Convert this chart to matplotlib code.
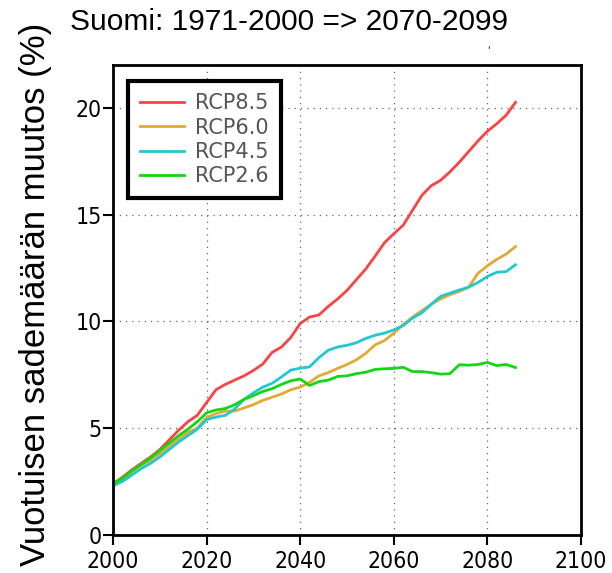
import numpy as np
import matplotlib as mpl
mpl.use("Agg")
import matplotlib.pyplot as plt

# Vuotuisen sademäärän muutos (%) Suomessa, 1971-2000 => 2070-2099
years = np.arange(2000, 2087, 2)

rcp85 = [2.4, 2.7, 3.05, 3.35, 3.65, 4.0, 4.45, 4.9, 5.3, 5.6,
         6.2, 6.8, 7.05, 7.25, 7.45, 7.7, 8.0, 8.55, 8.8, 9.25,
         9.9, 10.2, 10.3, 10.7, 11.05, 11.45, 11.95, 12.45, 13.05, 13.68,
         14.1, 14.5, 15.2, 15.9, 16.35, 16.6, 17.0, 17.45, 17.95, 18.45,
         18.9, 19.25, 19.65, 20.25]
rcp60 = [2.35, 2.6, 2.95, 3.25, 3.5, 3.8, 4.15, 4.5, 4.8, 5.0,
         5.5, 5.68, 5.8, 5.8, 5.95, 6.1, 6.3, 6.45, 6.6, 6.8,
         6.92, 7.15, 7.45, 7.6, 7.8, 7.98, 8.2, 8.5, 8.9, 9.1,
         9.45, 9.85, 10.2, 10.5, 10.8, 11.05, 11.25, 11.4, 11.6, 12.25,
         12.6, 12.9, 13.15, 13.5]
rcp45 = [2.3, 2.5, 2.8, 3.1, 3.35, 3.65, 4.0, 4.35, 4.65, 4.95,
         5.4, 5.52, 5.6, 5.9, 6.35, 6.65, 6.92, 7.1, 7.4, 7.72,
         7.81, 7.87, 8.3, 8.65, 8.8, 8.88, 9.0, 9.2, 9.35, 9.45,
         9.6, 9.8, 10.15, 10.4, 10.8, 11.17, 11.32, 11.47, 11.6, 11.82,
         12.1, 12.3, 12.33, 12.65]
rcp26 = [2.4, 2.65, 3.0, 3.3, 3.6, 3.95, 4.3, 4.65, 4.95, 5.3,
         5.72, 5.85, 5.92, 6.1, 6.35, 6.52, 6.72, 6.85, 7.05, 7.22,
         7.3, 7.0, 7.18, 7.25, 7.42, 7.45, 7.55, 7.62, 7.75, 7.78,
         7.8, 7.85, 7.65, 7.65, 7.6, 7.53, 7.55, 7.97, 7.95, 7.98,
         8.08, 7.93, 7.98, 7.84]

series = [("RCP8.5", rcp85, "#f84444"),
          ("RCP6.0", rcp60, "#e2aa33"),
          ("RCP4.5", rcp45, "#22c8d0"),
          ("RCP2.6", rcp26, "#14d614")]

xticks = [2000, 2020, 2040, 2060, 2080, 2100]
yticks = [0, 5, 10, 15, 20]

fig = plt.figure(figsize=(6.12, 5.73), dpi=100)
ax = fig.add_axes([113 / 612, 1 - 535 / 573, 468 / 612, 470 / 573])

for label, vals, col in series:
    ax.plot(years, vals, color=col, lw=2.0, label=label)

ax.set_xlim(2000, 2100)
ax.set_ylim(0, 22)
ax.set_xticks(xticks)
ax.set_yticks(yticks)
ax.grid(True, color="#666666", linestyle=(0, (1, 4)), lw=0.9)
for sp in ax.spines.values():
    sp.set_linewidth(2.0)
ax.tick_params(direction="out", length=7, width=1.5, labelsize=16.5)
ax.tick_params(axis="x", pad=4)
ax.tick_params(axis="y", pad=1)
# condensed face for the tick numbers
for t in ax.get_xticklabels() + ax.get_yticklabels():
    t.set_family("DejaVu Sans")
    t.set_stretch("condensed")
    t.set_weight("light")

leg = ax.legend(loc="upper left", bbox_to_anchor=(0.032, 0.966),
                borderaxespad=0, fancybox=False, framealpha=1,
                edgecolor="black", prop={"family": "DejaVu Sans", "size": 15},
                handlelength=2.1, handletextpad=0.5, labelspacing=0.2,
                borderpad=0.6)
leg.get_frame().set_linewidth(3)
for t in leg.get_texts():
    t.set_color("#555555")

fig.text(70 / 612, 1 - 22 / 573, "Suomi: 1971-2000 => 2070-2099",
         family="Liberation Sans", fontsize=21.5, va="center", ha="left")
fig.text(36 / 612, 1 - 294 / 573, "Vuotuisen sademäärän muutos (%)",
         family="Liberation Sans", fontsize=25, rotation=90,
         va="center", ha="center")
fig.text(488 / 612, 1 - 50 / 573, "'", fontsize=7, ha="center", va="center")

fig.savefig("out.png", dpi=100)
